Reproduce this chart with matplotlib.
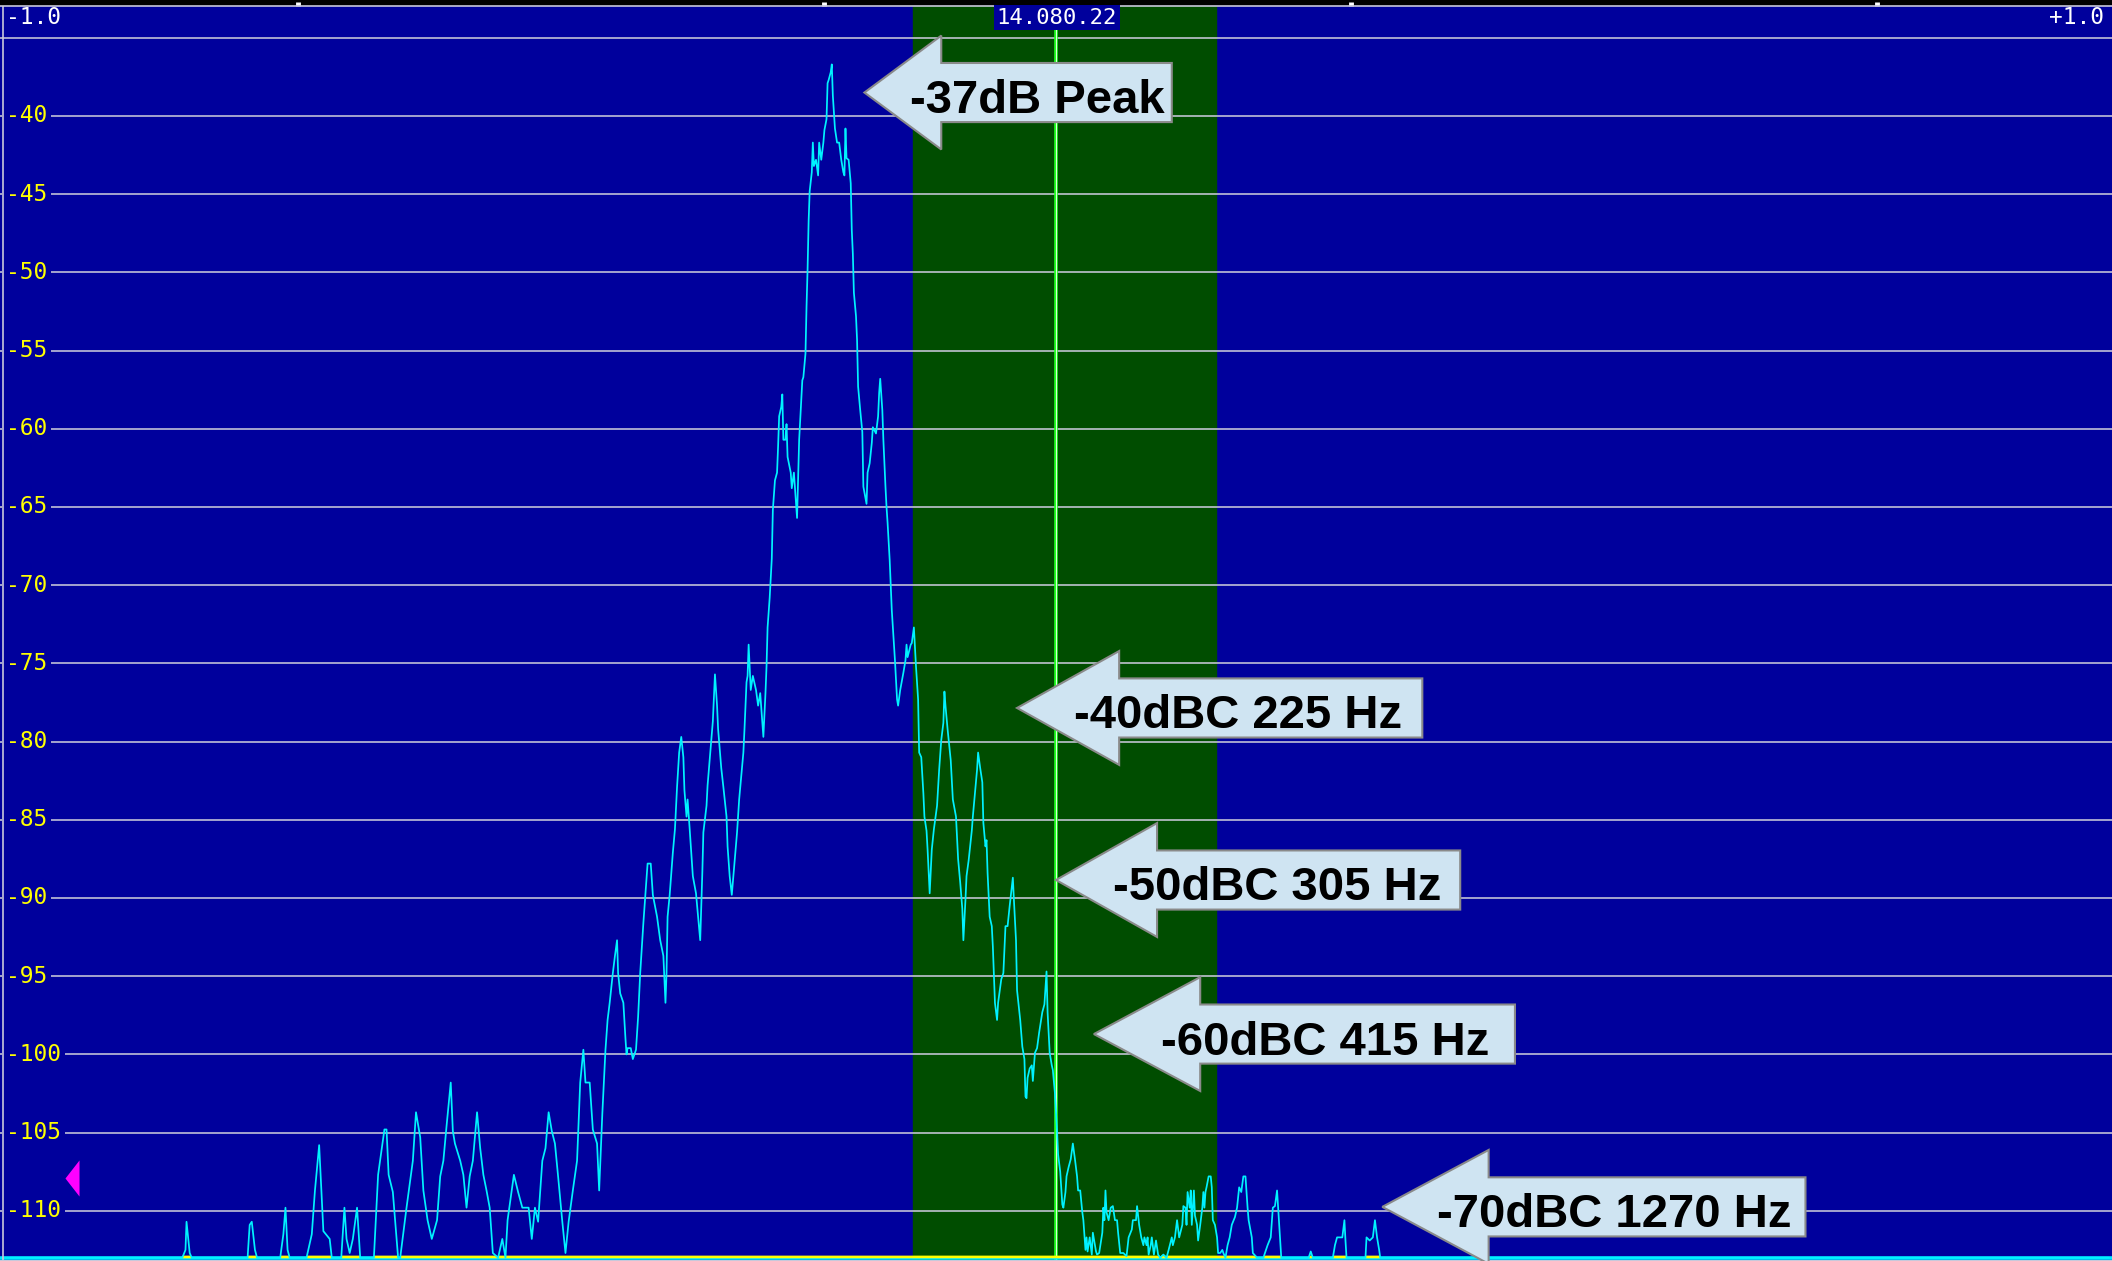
import numpy as np
import matplotlib.pyplot as plt
from matplotlib.patches import Polygon
from matplotlib.path import Path

# spectrum trace: offset from 14.080.22 MHz in Hz, level in dB
freq_hz = [
    -1000, -830, -827, -826, -823, -821, -768, -766, -764, -761, -759,
    -737, -734, -732, -730, -728, -712, -707, -704, -700, -696, -690, -688,
    -679, -676, -674, -671, -668, -664, -661, -648, -644, -638, -636, -634,
    -630, -625, -623, -617, -611, -608, -604, -601, -597, -593, -588, -585,
    -582, -579, -575, -573, -571, -566, -563, -560, -557, -554, -550, -547,
    -544, -541, -538, -535, -530, -526, -523, -521, -517, -515, -511, -507,
    -501, -498, -495, -492, -488, -485, -482, -479, -476, -473, -469, -466,
    -463, -459, -455, -452, -449, -447, -443, -440, -436, -434, -431, -428,
    -426, -424, -421, -419, -417, -416, -414, -411, -409, -408, -407, -404,
    -402, -399, -397, -395, -393, -392, -390, -388, -385, -383, -379, -376,
    -373, -371, -370, -369, -367, -364, -362, -360, -358, -356, -354, -353,
    -351, -350, -348, -345, -342, -340, -338, -336, -335, -332, -331, -328,
    -326, -324, -322, -321, -318, -316, -313, -312, -310, -308, -306, -303,
    -301, -299, -297, -296, -294, -293, -292, -290, -288, -285, -283, -281,
    -279, -278, -276, -275, -274, -272, -270, -269, -267, -265, -264, -263,
    -261, -260, -259, -257, -256, -255, -252, -251, -249, -247, -246, -244,
    -243, -241, -240, -238, -237, -236, -235, -234, -232, -231, -230, -228,
    -226, -225, -223, -221, -220, -218, -217, -216, -214, -213, -212, -210,
    -208, -206, -204, -202, -201, -200, -199, -197, -195, -194, -193, -192,
    -190, -189, -188, -186, -184, -183, -180, -179, -177, -175, -174, -171,
    -169, -168, -167, -165, -164, -162, -161, -160, -158, -156, -155, -153,
    -151, -150, -148, -145, -143, -142, -141, -138, -137, -135, -133, -131,
    -130, -128, -126, -125, -123, -122, -120, -118, -116, -113, -111, -109,
    -107, -106, -105, -103, -100, -98, -95, -93, -91, -89, -88, -86, -85,
    -83, -80, -79, -77, -75, -74, -72, -70, -69, -67, -66, -65, -63, -61,
    -60, -58, -56, -55, -52, -50, -48, -46, -44, -41, -40, -38, -37, -34,
    -32, -30, -29, -28, -27, -25, -23, -22, -20, -18, -16, -13, -11, -10,
    -9, -8, -6, -4, -3, -1, 1, 2, 4, 6, 7, 9, 10, 12, 14, 16, 18, 20, 21,
    23, 25, 26, 28, 29, 30, 32, 34, 35, 38, 39, 41, 44, 45, 46, 47, 48, 50,
    52, 54, 56, 58, 59, 61, 64, 67, 69, 72, 73, 76, 77, 79, 81, 83, 84, 86,
    87, 88, 90, 91, 93, 95, 97, 99, 102, 105, 107, 110, 111, 113, 115, 117,
    120, 121, 123, 124, 125, 127, 128, 129, 131, 132, 134, 135, 137, 139,
    140, 141, 142, 143, 145, 147, 148, 149, 151, 153, 154, 156, 158, 159,
    161, 163, 165, 167, 170, 172, 174, 176, 178, 180, 181, 182, 183, 186,
    187, 191, 197, 201, 204, 206, 208, 210, 211, 213, 214, 240, 242, 244,
    263, 265, 267, 270, 272, 274, 275, 276, 294, 295, 298, 301, 303, 305,
    307, 308, 1000,
]
level_db = [
    -113, -113, -112.5, -110.7, -112.7, -113, -113, -110.9, -110.7, -112.5, -113,
    -113, -111.5, -109.8, -112.5, -113, -113, -111.5, -108.7, -105.8, -111.3, -111.8, -113,
    -113, -109.8, -111.8, -112.7, -111.8, -109.8, -113, -113, -107.7, -104.8, -104.8, -107.7,
    -108.8, -113, -113, -109.8, -106.8, -103.7, -105.3, -108.7, -110.6, -111.8, -110.6, -107.8,
    -106.8, -104.6, -101.8, -104.9, -105.7, -106.8, -107.7, -109.8, -107.8, -106.8, -103.7, -106,
    -107.7, -108.7, -109.8, -112.7, -113, -111.8, -113, -110.6, -108.7, -107.7, -108.8, -109.8,
    -109.8, -111.8, -109.8, -110.7, -106.8, -106, -103.7, -104.9, -105.7, -107.8, -110.7, -112.7,
    -110.7, -108.7, -106.8, -101.8, -99.7, -101.8, -101.8, -104.8, -105.7, -108.7, -103.8, -99.7,
    -97.8, -96.7, -94.8, -93.7, -92.7, -94.8, -96.1, -96.7, -99, -100, -99.6, -99.6,
    -100.3, -99.7, -97.6, -94.8, -92.7, -91.6, -89.7, -87.8, -87.8, -89.8, -91.2, -92.7,
    -93.7, -96.7, -94.8, -91.2, -89.8, -87.1, -85.6, -82.9, -80.7, -79.7, -81, -83.1,
    -84.8, -83.7, -85.6, -88.6, -89.7, -91.2, -92.7, -88.4, -85.8, -84.1, -82.8, -80.3,
    -78.7, -75.7, -77.7, -79.2, -81.7, -82.9, -84.8, -86.7, -88.6, -89.8, -88.2, -85.8,
    -83.7, -82.2, -80.7, -79.3, -76.2, -75.8, -73.8, -76.7, -75.8, -76.7, -77.7, -76.9,
    -78.8, -79.7, -76.9, -75.2, -72.7, -70.8, -68.3, -65.2, -63.3, -62.8, -61.1, -59.2,
    -58.6, -57.8, -60.7, -60.7, -59.7, -61.8, -62.8, -63.8, -62.8, -64.8, -65.7, -60.7,
    -59.4, -56.9, -56.7, -55.2, -52.2, -49.8, -46.7, -44.8, -43.6, -41.7, -43.2, -42.8,
    -43.8, -41.7, -42.8, -41.7, -40.9, -40.2, -37.9, -37.7, -37.2, -36.7, -38.7, -40.8,
    -41.7, -41.7, -42.8, -43.6, -43.8, -40.8, -42.7, -42.8, -44.3, -47.3, -48.8, -51.3,
    -52.8, -54.3, -57.3, -58.8, -60.2, -63.7, -64.8, -62.8, -62.2, -60.9, -59.9, -60.3,
    -59.2, -57.7, -56.8, -58.8, -60.7, -63.7, -65, -66, -68.4, -71.6, -72.7, -74.8,
    -77.3, -77.7, -76.7, -75.6, -74.8, -73.8, -74.6, -73.8, -73.7, -72.7, -75.2, -77.3,
    -80.7, -81, -83.3, -84.8, -85.7, -86.9, -89.7, -86.9, -85.6, -84.1, -81.8, -79.9,
    -78.8, -76.8, -77.7, -79.2, -81.2, -83.7, -84.8, -87.5, -89, -90.7, -92.7, -90.1, -88.6,
    -87.6, -85.7, -84.8, -83.3, -81.8, -80.7, -81.7, -82.6, -85.2, -86.7, -86.3, -88.4, -91.2,
    -91.8, -93.1, -96.7, -97.8, -96.7, -95.2, -94.8, -91.8, -91.8, -90.5, -88.7, -90.1, -92.7, -95.9,
    -97.8, -99.5, -100.3, -102.7, -102.8, -101.5, -100.9, -100.7, -101.7, -99.9, -99.6, -98.6, -97.3, -96.8,
    -95.7, -94.7, -97.3, -99.9, -100.7, -101, -102.5, -104.9, -106.4, -107.5, -109.6, -109.8, -108.8, -107.8,
    -107.2, -106.7, -105.7, -106.7, -107.8, -108.7, -108.7, -110.1, -110.6, -112.5, -111.7, -112.6, -111.7,
    -112.8, -111.4, -112.6, -112.8, -112.7, -111.4, -109.8, -110.6, -108.7, -110.1, -110.6, -109.8, -109.7,
    -110.6, -110.6, -111.4, -112.7, -112.7, -112.9, -111.7, -111.2, -110.6, -110.6, -109.7, -110.9, -111.7,
    -112.2, -111.7, -112.2, -111.7, -112.8, -112.2, -111.7, -112.8, -111.9, -112.8, -113, -112.8, -113,
    -112.5, -111.7, -112.2, -111.7, -110.6, -111.7, -110.9, -109.7, -109.8, -110.9, -108.8, -109.8, -108.7,
    -110.9, -108.7, -110.3, -110.9, -111.9, -110.9, -109.8, -108.8, -109.8, -108.8, -108.5, -107.8, -107.8,
    -108.5, -110.6, -110.9, -111.7, -112.7, -112.7, -112.5, -112.7, -113, -112.2, -111.7, -110.9, -110.4,
    -109.8, -108.5, -108.8, -107.8, -107.8, -108.8, -109.8, -110.6, -111.7, -112.7, -113, -113, -112.2,
    -111.7, -109.8, -109.7, -108.7, -109.8, -111.9, -113, -113, -112.6, -113, -113, -112.2, -111.7,
    -111.7, -111.7, -110.6, -111.9, -113, -113, -111.7, -111.9, -111.7, -110.6, -111.7, -112.5, -113, -113,
]

floor_db = -113.0
grid_levels = list(range(-35, -111, -5))
label_levels = list(range(-40, -111, -5))
center_label = "14.080.22"
edge_labels = ["-1.0", "+1.0"]
passband_hz = [-136, 152]
center_khz = 14080.22
tick_khz = [14079.5, 14080.0, 14080.5, 14081.0]
squelch_hz = -935
squelch_db = -107.9

callout_text = ["-37dB Peak", "-40dBC 225 Hz", "-50dBC 305 Hz",
                "-60dBC 415 Hz", "-70dBC 1270 Hz"]
callout_tip_hz = [-182, -37, 0, 36, 310]
callout_tip_db = [-38.5, -77.85, -88.85, -98.7, -109.75]

# callout geometry (layout only)
callout_end_hz = [110, 348, 384, 436, 712]
callout_head_hz = [73, 97, 96, 101, 101]
callout_textx_hz = [-18, 173, 210, 256, 530]
head_half_db = 3.64
box_half_db = 1.89

bg_blue = '#00009C'
band_green = '#004D00'
grid_col = '#C8C8DA'
trace_col = '#00F2FF'

fig = plt.figure(figsize=(21.12, 12.61), dpi=100, facecolor='black')
ax = fig.add_axes([0, 0, 1, (1261 - 5.5) / 1261])
ax.set_facecolor(bg_blue)
ax.set_xlim(-1003.2, 1003.2)
ax.set_ylim(-113.21, -32.935)

# passband and tuning line
ax.axvspan(passband_hz[0], passband_hz[1], color=band_green, zorder=0)
for lv in grid_levels:
    ax.axhline(lv, color=grid_col, lw=1.15, zorder=1)
ax.axvline(0, color='#22FF22', lw=2.6, zorder=2)
ax.axvline(0, color='#E0FFE0', lw=0.7, zorder=2)

# floor line with yellow where the signal is above it
xx = np.linspace(-1000, 1000, 6000)
yy = np.interp(xx, freq_hz, level_db)
ax.plot([-1003.2, 1003.2], [floor_db, floor_db], color='#00E8FF', lw=2.6, zorder=3,
        solid_capstyle='butt')
ax.plot(xx, np.where(yy > floor_db + 0.05, floor_db + 0.05, np.nan), color='#FFFF00',
        lw=1.9, zorder=3, solid_capstyle='butt')

# spectrum trace
ax.plot(freq_hz, level_db, color=trace_col, lw=1.25, zorder=4)

# left border
ax.axvline(-1000, color=grid_col, lw=1.2, zorder=6)

# level labels
for lv in label_levels:
    ax.annotate(str(lv), xy=(0, lv), xycoords=('axes fraction', 'data'),
                xytext=(6, 0), textcoords='offset pixels', ha='left', va='center',
                color='#FFFF00', fontsize=16.5, family='DejaVu Sans Mono',
                bbox=dict(boxstyle='square,pad=0.18', fc=bg_blue, ec='none'), zorder=5)

ax.annotate(edge_labels[0], xy=(0, 1), xycoords='axes fraction', xytext=(6, -12),
            textcoords='offset pixels', ha='left', va='center', color='white',
            fontsize=16.5, family='DejaVu Sans Mono', zorder=7)
ax.annotate(edge_labels[1], xy=(1, 1), xycoords='axes fraction', xytext=(-8, -12),
            textcoords='offset pixels', ha='right', va='center', color='white',
            fontsize=16.5, family='DejaVu Sans Mono', zorder=7)
ax.annotate(center_label, xy=(0, 1), xycoords=('data', 'axes fraction'), xytext=(1, -12),
            textcoords='offset pixels', ha='center', va='center', color='white',
            fontsize=16, family='DejaVu Sans Mono', zorder=7,
            bbox=dict(boxstyle='square,pad=0.12', fc=bg_blue, ec='none'))

# squelch marker
tri = Path([(-7, 0), (7, 18), (7, -18), (-7, 0)])
ax.plot([squelch_hz], [squelch_db], marker=tri, markersize=26, color='#FF00FF',
        markeredgewidth=0, linestyle='none', zorder=6)

# callout arrows
for txt, tx, ty, end, head, cx in zip(callout_text, callout_tip_hz, callout_tip_db,
                                      callout_end_hz, callout_head_hz, callout_textx_hz):
    verts = [(tx, ty), (tx + head, ty + head_half_db), (tx + head, ty + box_half_db),
             (end, ty + box_half_db), (end, ty - box_half_db), (tx + head, ty - box_half_db),
             (tx + head, ty - head_half_db)]
    ax.add_patch(Polygon(verts, closed=True, fc='#CFE4F2', ec='#8A8A8A', lw=1.5,
                         zorder=8, clip_on=False))
    ax.text(cx, ty - 1.31, txt, ha='center', va='baseline', fontsize=34,
            fontweight='bold', family='Liberation Sans', color='black', zorder=9)

# top frequency ticks
ax.set_xticks([(k - center_khz) * 1000 for k in tick_khz])
ax.set_yticks([])
ax.tick_params(axis='x', top=True, bottom=False, direction='out', length=3,
               width=3.5, colors='white', labeltop=False, labelbottom=False)
for side in ['left', 'right']:
    ax.spines[side].set_visible(False)
ax.spines['top'].set_color(grid_col)
ax.spines['top'].set_linewidth(1.2)
ax.spines['bottom'].set_color(grid_col)
ax.spines['bottom'].set_linewidth(1.5)

fig.savefig('out.png', dpi=100, facecolor='black')
